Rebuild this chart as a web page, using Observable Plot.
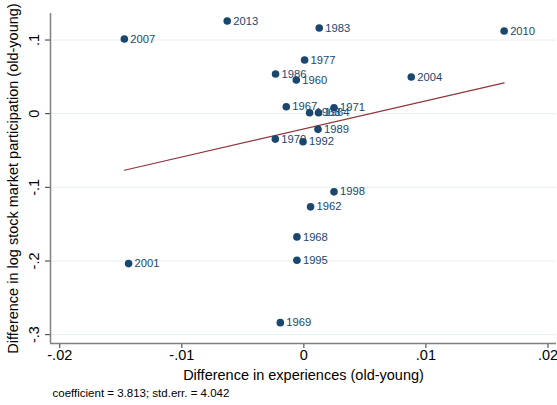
<!DOCTYPE html>
<html><head><meta charset="utf-8">
<script src="https://cdn.jsdelivr.net/npm/d3@7"></script>
<script src="https://cdn.jsdelivr.net/npm/@observablehq/plot@0.6"></script>
<style>body{margin:0;background:#fff}</style>
</head><body><div id="chart"></div>
<script>
// Survey years (point labels)
const years = [2013, 1983, 2010, 2007, 1977, 1986, 1960, 2004, 1967, 1963, 1964, 1971, 1989, 1970, 1992, 1998, 1962, 1968, 1995, 1969, 2001];
// Difference in experiences (old-young)
const expDiff = [-0.00628, 0.00126, 0.01641, -0.01471, 0.00006, -0.00232, -0.00062, 0.0088, -0.00144, 0.00047, 0.0012, 0.00247, 0.00116, -0.00234, -0.00007, 0.00247, 0.00055, -0.00057, -0.00057, -0.00193, -0.01436];
// Difference in log stock market participation (old-young)
const partDiff = [0.1259, 0.1163, 0.1123, 0.1014, 0.0728, 0.0538, 0.0457, 0.0497, 0.0094, 0.0012, 0.0012, 0.008, -0.0213, -0.0345, -0.0382, -0.1061, -0.1265, -0.1673, -0.199, -0.2837, -0.2035];
// Fit
const fitCoefficient = 3.813;
const fitStdErr = 4.042;
const fitIntercept = -0.0207;
// Axes
const xTicks = [-0.02, -0.01, 0, 0.01, 0.02];
const yTicks = [0.1, 0, -0.1, -0.2, -0.3];
const xDomain = [-0.02076, 0.0207];
const yDomain = [-0.312, 0.136];
const xTitle = "Difference in experiences (old-young)";
const yTitle = "Difference in log stock market participation (old-young)";
const captionText = `coefficient = ${fitCoefficient.toFixed(3)}; std.err. = ${fitStdErr.toFixed(3)}`;

const fmt = d => d === 0 ? "0" : (d < 0 ? "-" : "") + String(Math.abs(d)).replace(/^0/, "");
const rows = years.map((year, i) => ({year, x: expDiff[i], y: partDiff[i]}));
const xExt = d3.extent(expDiff);
const fitRows = xExt.map(x => ({x, y: fitIntercept + fitCoefficient * x}));

const navy = "#1a476f";
const font = "'Liberation Sans', Arial, sans-serif";

const chart = Plot.plot({
  width: 557,
  height: 405,
  marginLeft: 50,
  marginTop: 13,
  marginBottom: 62,
  marginRight: 1,
  style: {fontFamily: font, fontSize: "11px", background: "white", overflow: "visible"},
  x: {domain: xDomain, axis: null},
  y: {domain: yDomain, axis: null},
  marks: [
    Plot.ruleY(yTicks, {stroke: "#e6eeee", strokeWidth: 1}),
    Plot.axisX({ticks: xTicks, tickFormat: fmt, tickSize: 5, tickPadding: 1, fontSize: 14.5, label: null, stroke: "#333", fill: "black"}),
    Plot.axisY({ticks: yTicks, tickFormat: () => "", tickSize: 5, label: null, stroke: "#333"}),
    Plot.text(yTicks, {y: d => d, text: fmt, frameAnchor: "left", rotate: -90, dx: -16, textAnchor: "middle", lineAnchor: "middle", fontSize: 14.5, fill: "black"}),
    Plot.ruleX([xDomain[0]], {stroke: "#808080", strokeWidth: 1.5}),
    Plot.ruleY([yDomain[0]], {stroke: "#808080", strokeWidth: 1.5}),
    Plot.line(fitRows, {x: "x", y: "y", stroke: "#90353b", strokeWidth: 1.2}),
    Plot.dot(rows, {x: "x", y: "y", r: 3.8, fill: navy, stroke: "none"}),
    Plot.text(rows, {x: "x", y: "y", text: d => String(d.year), dx: 6, textAnchor: "start", lineAnchor: "middle", fill: navy, fontSize: 11.2}),
    Plot.text([xTitle], {frameAnchor: "bottom", dy: 32, lineAnchor: "middle", fontSize: 14.5, fill: "black"}),
    Plot.text([yTitle], {frameAnchor: "left", rotate: -90, dx: -37, textAnchor: "middle", lineAnchor: "middle", fontSize: 14.5, fill: "black"}),
    Plot.text([captionText], {frameAnchor: "bottom-left", dx: 2, dy: 50, textAnchor: "start", lineAnchor: "middle", fontSize: 11.5, fill: "black"})
  ]
});
document.getElementById("chart").append(chart);
</script>
</body></html>
